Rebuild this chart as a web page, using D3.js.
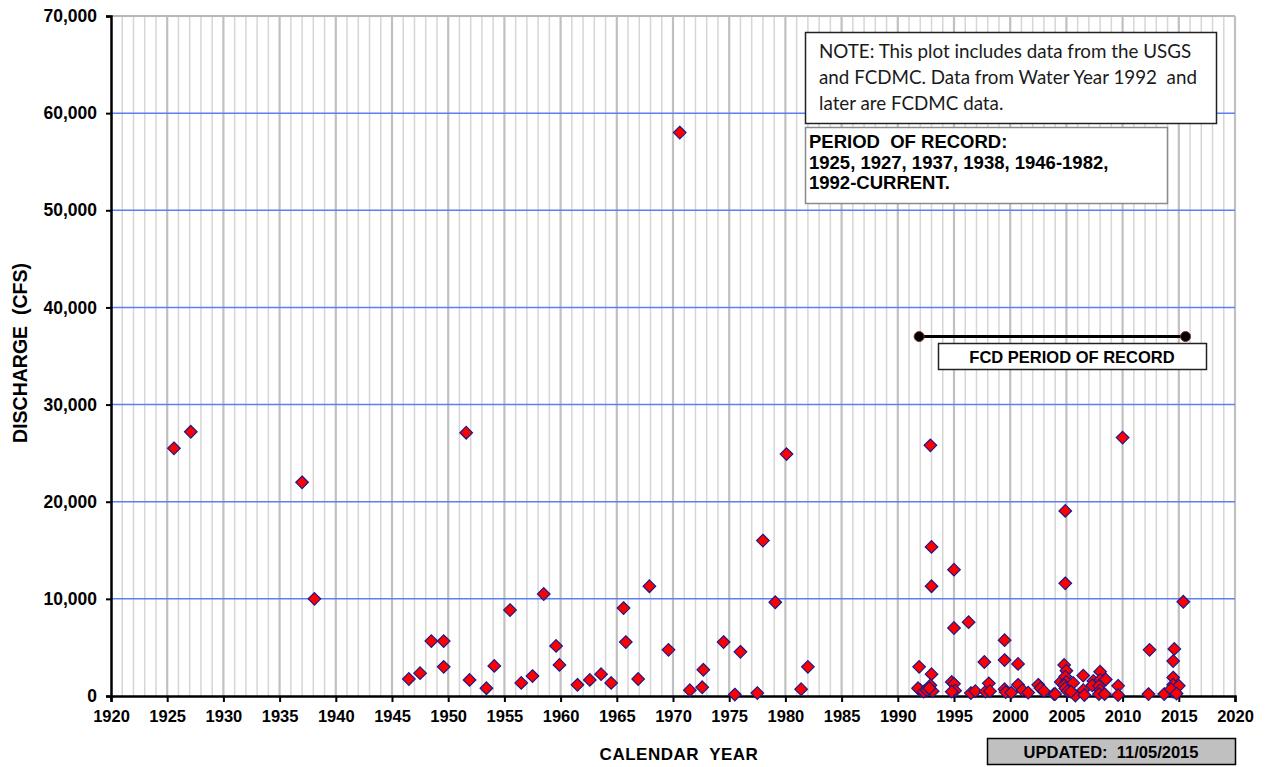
<!DOCTYPE html>
<html>
<head>
<meta charset="utf-8">
<script src="https://cdn.jsdelivr.net/npm/d3@7/dist/d3.min.js"></script>
<style>
  html, body { margin: 0; padding: 0; background: #fff; }
  svg { display: block; }
</style>
</head>
<body>
<svg id="chart" width="1266" height="767"></svg>
<script>
// ---- Data ----
const years = [
  1925.6, 1927.1, 1937.0, 1938.1,
  1946.5, 1947.5, 1948.5, 1949.6, 1949.6, 1951.6, 1951.9, 1953.4, 1954.1, 1955.5,
  1956.5, 1957.5, 1958.5, 1959.6, 1959.9, 1961.5, 1962.6, 1963.6, 1964.5, 1965.6,
  1965.8, 1966.9, 1967.9, 1969.6, 1970.6, 1971.5, 1972.6, 1972.7, 1974.5, 1975.5,
  1976.0, 1977.5, 1978.0, 1979.1, 1980.1, 1981.4, 1982.0,
  1991.9, 1992.0, 1991.8, 1992.3, 1992.6, 1993.0, 1992.9, 1993.1, 1992.8,
  1992.9, 1993.0, 1993.0, 1994.8, 1995.0, 1995.1, 1994.8, 1995.0, 1995.0,
  1996.3, 1996.5, 1996.9, 1997.7, 1997.8, 1998.1, 1998.2, 1999.5, 1999.5, 1999.5,
  1999.6, 2000.1, 2000.7, 2000.7, 2001.1, 2001.6, 2002.5, 2002.7, 2003.0, 2003.9,
  2004.0, 2004.8, 2005.0, 2004.5, 2004.9, 2005.0, 2004.8, 2004.9, 2005.1, 2004.9,
  2004.9, 2005.6, 2005.8, 2005.4, 2006.5, 2006.5, 2006.6, 2007.4, 2007.3, 2008.0,
  2008.0, 2007.9, 2008.0, 2007.9, 2008.5, 2008.4, 2009.6, 2009.6, 2010.0, 2012.3,
  2012.4, 2013.7, 2014.6, 2014.5, 2014.5, 2014.5, 2015.0, 2014.5, 2014.3, 2014.8,
  2015.4
];
const discharge = [
  25500, 27200, 22000, 10000,
  1750, 2350, 5650, 5650, 3000, 27100, 1650, 800, 3100, 8850,
  1350, 2050, 10500, 5150, 3200, 1150, 1650, 2250, 1350, 9050,
  5550, 1750, 11300, 4750, 58000, 600, 900, 2700, 5550, 150,
  4550, 300, 16000, 9650, 24900, 700, 3000,
  3000, 600, 800, 450, 600, 2250, 1100, 500, 800,
  25800, 15350, 11300, 1450, 1250, 550, 450, 13000, 7000,
  7600, 300, 500, 3500, 450, 1300, 500, 5750, 3700, 700,
  400, 350, 3300, 1150, 600, 350, 1150, 800, 500, 200,
  200, 3200, 2600, 1450, 2000, 1450, 1100, 800, 500, 19050,
  11600, 1350, 50, 450, 2100, 600, 100, 1550, 1100, 2500,
  1650, 1050, 600, 200, 1700, 200, 1050, 100, 26600, 200,
  4750, 200, 4850, 3600, 1900, 1150, 1050, 450, 700, 250,
  9700
];
const xTickValues = [1920, 1925, 1930, 1935, 1940, 1945, 1950, 1955, 1960, 1965, 1970,
  1975, 1980, 1985, 1990, 1995, 2000, 2005, 2010, 2015, 2020];
const yTickValues = [0, 10000, 20000, 30000, 40000, 50000, 60000, 70000];
const fcdPeriod = [1991.9, 2015.6];
const fcdLevel = [37000];
const noteLines = [
  "NOTE: This plot includes data from the USGS",
  "and FCDMC. Data from Water Year 1992  and",
  "later are FCDMC data."
];
const periodLines = [
  "PERIOD  OF RECORD:",
  "1925, 1927, 1937, 1938, 1946-1982,",
  "1992-CURRENT."
];
const xTitle = "CALENDAR  YEAR";
const yTitle = "DISCHARGE  (CFS)";
const fcdLabel = "FCD PERIOD OF RECORD";
const updatedLabel = "UPDATED:  11/05/2015";

// ---- Layout ----
const svg = d3.select("#chart");
const L = 111, R = 1235, T = 16, B = 696;
const x = d3.scaleLinear().domain([1920, 2020]).range([L, R]);
const y = d3.scaleLinear().domain([0, 70000]).range([B, T]);
const FONT = "'Liberation Sans', Arial, sans-serif";

// ---- Grid ----
const grid = svg.append("g");
const allYears = d3.range(1921, 2021, 1);
grid.selectAll("line.vg").data(allYears).enter().append("line")
  .attr("x1", d => x(d)).attr("x2", d => x(d))
  .attr("y1", T).attr("y2", B)
  .attr("stroke", d => d % 5 === 0 ? "#c0c0c0" : "#d6d6d6")
  .attr("stroke-width", d => d % 5 === 0 ? 2.2 : 1.5);
grid.selectAll("line.hg").data(yTickValues.filter(v => v > 0 && v < 70000)).enter().append("line")
  .attr("x1", L).attr("x2", R)
  .attr("y1", d => y(d)).attr("y2", d => y(d))
  .attr("stroke", "#5b80f5").attr("stroke-width", 1.5);
grid.append("line").attr("x1", L).attr("x2", R).attr("y1", y(70000)).attr("y2", y(70000))
  .attr("stroke", "#b8b8b8").attr("stroke-width", 2);

// ---- Axes ----
const xAxis = d3.axisBottom(x).tickValues(xTickValues).tickFormat(d3.format("d"))
  .tickSize(6).tickPadding(8);
const gx = svg.append("g").attr("transform", `translate(0,${B})`).call(xAxis);
gx.select(".domain").attr("stroke", "#000").attr("stroke-width", 2.5);
gx.selectAll(".tick line").attr("stroke", "#000").attr("stroke-width", 2);
gx.selectAll(".tick text").attr("font-family", FONT).attr("font-weight", "bold")
  .attr("font-size", 16.5).attr("fill", "#000");

const yAxis = d3.axisLeft(y).tickValues(yTickValues).tickFormat(d3.format(","))
  .tickSize(5).tickPadding(9);
const gy = svg.append("g").attr("transform", `translate(${L},0)`).call(yAxis);
gy.select(".domain").attr("stroke", "#000").attr("stroke-width", 2.5);
gy.selectAll(".tick line").attr("stroke", "#000").attr("stroke-width", 2);
gy.selectAll(".tick text").attr("font-family", FONT).attr("font-weight", "bold")
  .attr("font-size", 17.5).attr("fill", "#000");

// axis titles
svg.append("text").attr("x", 679).attr("y", 760).attr("text-anchor", "middle")
  .attr("font-family", FONT).attr("font-weight", "bold").attr("font-size", 17)
  .attr("letter-spacing", 0.5).attr("fill", "#000").style("white-space", "pre").text(xTitle);
svg.append("text").attr("transform", "translate(27,353) rotate(-90)").attr("text-anchor", "middle")
  .attr("font-family", FONT).attr("font-weight", "bold").attr("font-size", 19.5)
  .attr("fill", "#000").style("white-space", "pre").text(yTitle);

// ---- Points ----
const pts = years.map((yr, i) => ({ yr, v: discharge[i] }));
const dh = 6.3;
const diamond = `M0,${-dh}L${dh},0L0,${dh}L${-dh},0Z`;
svg.append("g").selectAll("path").data(pts).enter().append("path")
  .attr("transform", d => `translate(${x(d.yr)},${y(d.v)})`)
  .attr("d", diamond)
  .attr("fill", "#ff0000").attr("stroke", "#1a1a8c").attr("stroke-width", 1.2);

// ---- Note box ----
svg.append("rect").attr("x", 805.5).attr("y", 32.5).attr("width", 411).attr("height", 91)
  .attr("fill", "#fff").attr("stroke", "#222").attr("stroke-width", 1.5);
svg.append("g").selectAll("text").data(noteLines).enter().append("text")
  .attr("x", 819).attr("y", (d, i) => 58 + i * 26)
  .attr("font-family", "Lato, 'Open Sans', sans-serif").attr("font-size", 18.8)
  .attr("fill", "#1a1a1a").style("white-space", "pre").text(d => d);

// ---- Period of record box ----
svg.append("rect").attr("x", 805.5).attr("y", 127.5).attr("width", 362).attr("height", 76)
  .attr("fill", "#fff").attr("stroke", "#8a8a8a").attr("stroke-width", 1.5);
svg.append("g").selectAll("text").data(periodLines).enter().append("text")
  .attr("x", 809).attr("y", (d, i) => 148 + i * 20.5)
  .attr("font-family", FONT).attr("font-weight", "bold").attr("font-size", 18.5)
  .attr("fill", "#000").style("white-space", "pre").text(d => d);

// ---- FCD period line ----
const fcd = svg.append("g");
fcd.append("line").attr("x1", x(fcdPeriod[0])).attr("x2", x(fcdPeriod[1]))
  .attr("y1", y(fcdLevel[0])).attr("y2", y(fcdLevel[0]))
  .attr("stroke", "#000").attr("stroke-width", 3);
fcd.selectAll("circle").data(fcdPeriod).enter().append("circle")
  .attr("cx", d => x(d)).attr("cy", y(fcdLevel[0])).attr("r", 5)
  .attr("fill", "#000").attr("stroke", "#7a3030").attr("stroke-width", 1);
fcd.append("rect").attr("x", 938.5).attr("y", 343.5).attr("width", 268).attr("height", 26)
  .attr("fill", "#fff").attr("stroke", "#222").attr("stroke-width", 1.5);
fcd.append("text").attr("x", 1072).attr("y", 363).attr("text-anchor", "middle")
  .attr("font-family", FONT).attr("font-weight", "bold").attr("font-size", 16.5)
  .attr("fill", "#000").text(fcdLabel);

// ---- Updated box ----
svg.append("rect").attr("x", 987.5).attr("y", 738.5).attr("width", 248).attr("height", 26)
  .attr("fill", "#c0c0c0").attr("stroke", "#000").attr("stroke-width", 1.5);
svg.append("text").attr("x", 1111).attr("y", 758).attr("text-anchor", "middle")
  .attr("font-family", FONT).attr("font-weight", "bold").attr("font-size", 16.5)
  .attr("fill", "#000").style("white-space", "pre").text(updatedLabel);
</script>
</body>
</html>
